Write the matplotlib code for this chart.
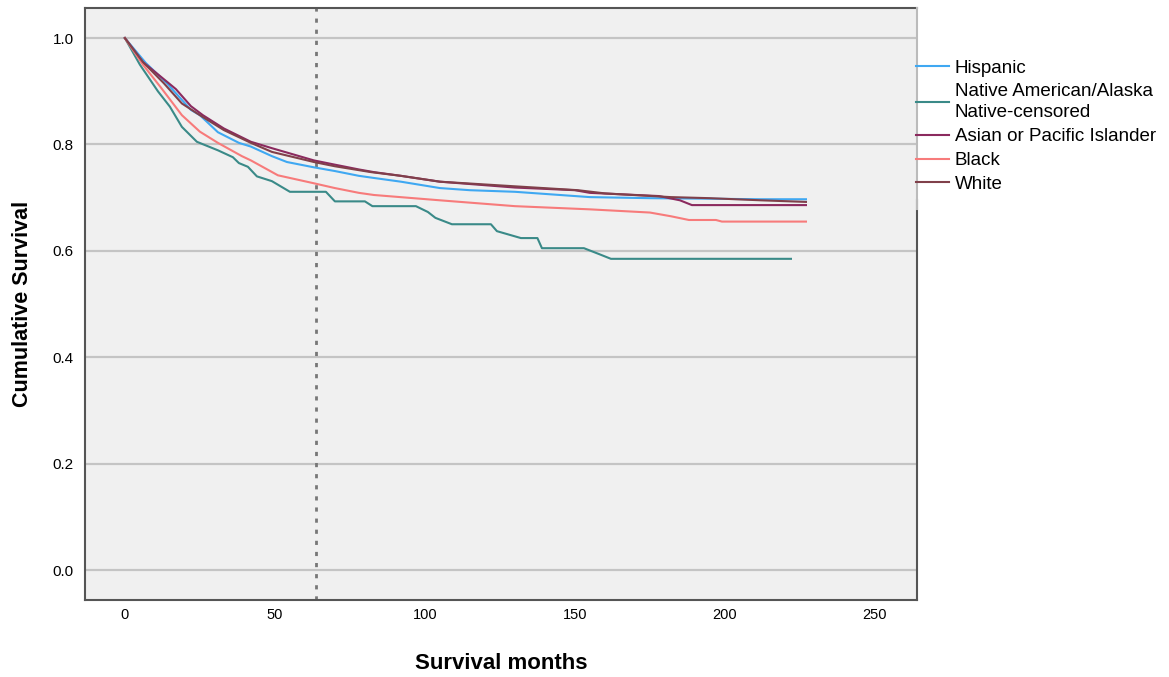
import matplotlib.pyplot as plt

# survival curves (months, cumulative survival)
hisp_t = [0, 7, 14, 22, 25, 31, 38, 42, 49, 54, 63, 70, 78, 83, 92, 105, 115, 130, 155, 175, 195, 212, 227]
hisp_s = [1.0, 0.953, 0.915, 0.865, 0.855, 0.823, 0.803, 0.796, 0.778, 0.767, 0.757, 0.750, 0.741, 0.737,
          0.730, 0.718, 0.714, 0.711, 0.701, 0.699, 0.698, 0.697, 0.697]

nat_t = [0, 5, 11, 15, 19, 24, 31, 36, 38, 41, 44, 49, 55, 67, 70, 80, 82.5, 97, 101, 103.5, 109, 122,
         124, 132, 137.5, 139, 153, 158, 162, 222]
nat_s = [1.0, 0.95, 0.90, 0.871, 0.833, 0.805, 0.789, 0.776, 0.765, 0.758, 0.740, 0.731, 0.711, 0.711,
         0.693, 0.693, 0.684, 0.684, 0.673, 0.662, 0.650, 0.650, 0.637, 0.624, 0.624, 0.605, 0.605,
         0.594, 0.585, 0.585]

asian_t = [0, 6, 14, 17, 22, 26, 33, 42, 49, 63, 70, 78, 83, 92, 105, 130, 150, 155, 178, 185, 189, 227]
asian_s = [1.0, 0.955, 0.918, 0.904, 0.872, 0.855, 0.830, 0.805, 0.793, 0.770, 0.762, 0.753, 0.748,
           0.741, 0.730, 0.719, 0.714, 0.709, 0.703, 0.695, 0.686, 0.686]

black_t = [0, 6, 12, 19, 25, 31, 39, 42, 51, 63, 70, 78, 83, 105, 130, 155, 175, 182, 188, 197, 199, 227]
black_s = [1.0, 0.95, 0.907, 0.855, 0.824, 0.803, 0.778, 0.770, 0.742, 0.727, 0.718, 0.709, 0.705,
           0.695, 0.684, 0.678, 0.672, 0.665, 0.658, 0.658, 0.655, 0.655]

white_t = [0, 6, 13, 19, 25, 33, 42, 49, 63, 70, 82, 92, 105, 128, 151, 160, 182, 195, 212, 227]
white_s = [1.0, 0.955, 0.915, 0.877, 0.855, 0.827, 0.803, 0.786, 0.767, 0.759, 0.748, 0.741, 0.730,
           0.722, 0.714, 0.708, 0.701, 0.699, 0.695, 0.692]

cutoff = 63.7
yticks = [0.0, 0.2, 0.4, 0.6, 0.8, 1.0]
xticks = [0, 50, 100, 150, 200, 250]

plt.rcParams['font.family'] = ['Liberation Sans', 'DejaVu Sans']

fig = plt.figure(figsize=(11.69, 6.77), dpi=100)
ax = fig.add_axes([0.0727, 0.1137, 0.7117, 0.8744])
ax.set_facecolor('#f0f0f0')

for y in yticks:
    ax.axhline(y, color='#c4c4c4', lw=1.6, zorder=1)
ax.axvline(cutoff, color='#777777', lw=2, linestyle=(0, (1.5, 2.5)), zorder=2)

ax.plot(hisp_t, hisp_s, color='#3fa8f2', lw=1.5, label='Hispanic', zorder=3)
ax.plot(nat_t, nat_s, color='#3a8a88', lw=1.5, label='Native American/Alaska\nNative-censored', zorder=3)
ax.plot(asian_t, asian_s, color='#8b2a5e', lw=1.5, label='Asian or Pacific Islander', zorder=3)
ax.plot(black_t, black_s, color='#f77b7b', lw=1.5, label='Black', zorder=3)
ax.plot(white_t, white_s, color='#80404a', lw=1.5, label='White', zorder=3)

ax.set_xlim(-13.3, 264)
ax.set_ylim(-0.0564, 1.0564)
ax.set_xticks(xticks)
ax.set_yticks(yticks)
ax.set_yticklabels([f'{v:.1f}' for v in yticks])
ax.tick_params(axis='x', length=0, labelsize=10.5, pad=6)
ax.tick_params(axis='y', length=0, labelsize=11, pad=8)

for s in ['left', 'bottom', 'top', 'right']:
    ax.spines[s].set_color('#555555')
    ax.spines[s].set_linewidth(1.5)
ax.spines['right'].set_bounds(-0.0564, 0.695)
ax.plot([1, 1], [0.66, 1], transform=ax.transAxes, color='#bbbbbb', lw=1.5, clip_on=False, zorder=4)

ax.set_xlabel('Survival months', fontsize=16, fontweight='bold', labelpad=22)
ax.set_ylabel('Cumulative Survival', fontsize=15.5, fontweight='bold', labelpad=14)

leg = fig.legend(loc='upper left', bbox_to_anchor=(0.784, 0.912), frameon=False, fontsize=13.5,
                 borderpad=0, borderaxespad=0, handlelength=1.75, handletextpad=0.3, labelspacing=0.36)
for t in leg.get_texts():
    t.set_linespacing(1.3)

fig.savefig('out.png', dpi=100)
